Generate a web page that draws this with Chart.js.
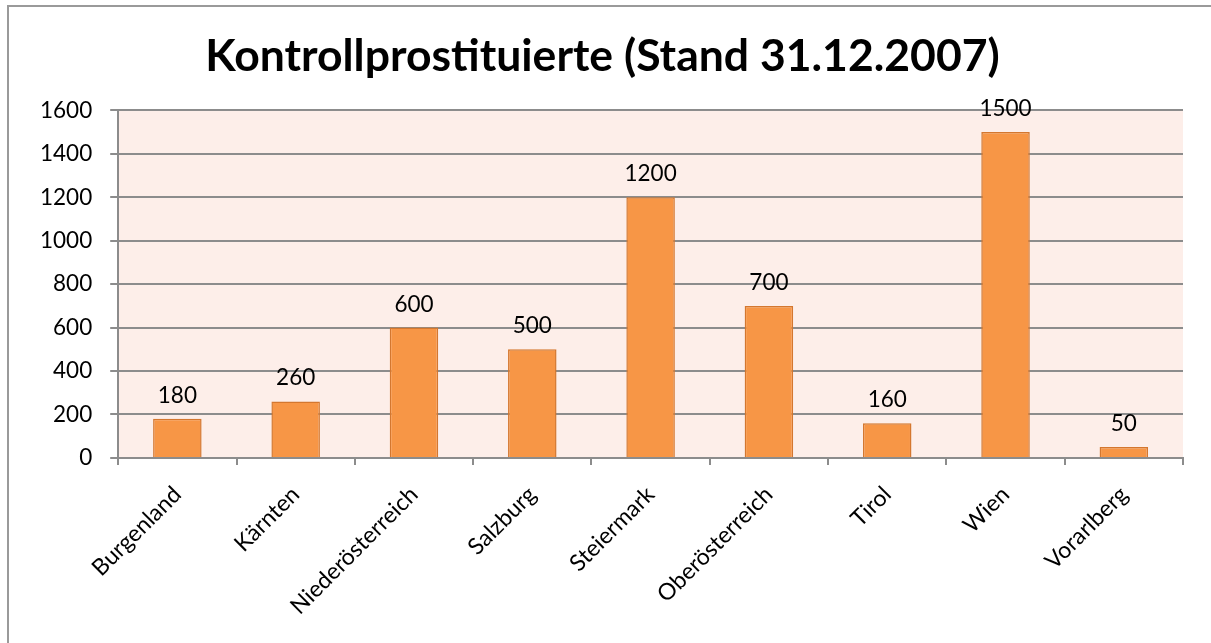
<!DOCTYPE html>
<html>
<head>
<meta charset="utf-8">
<script src="https://cdn.jsdelivr.net/npm/chart.js@4"></script>
<style>
  html, body { margin: 0; padding: 0; background: #fff; overflow: hidden; }
  #frame { position: absolute; left: 7px; top: 5px; width: 1260px; height: 700px; border-left: 2px solid #9a9a9a; border-top: 2px solid #9a9a9a; }
  #wrap { position: absolute; left: 0; top: 0; width: 1211px; height: 643px; }
</style>
</head>
<body>
<div id="frame"></div>
<div id="wrap"><canvas id="c" width="1211" height="643"></canvas></div>
<script>
const titleText = "Kontrollprostituierte (Stand 31.12.2007)";
const categories = ["Burgenland", "Kärnten", "Niederösterreich", "Salzburg", "Steiermark", "Oberösterreich", "Tirol", "Wien", "Vorarlberg"];
const values = [180, 260, 600, 500, 1200, 700, 160, 1500, 50];
const yTicks = [0, 200, 400, 600, 800, 1000, 1200, 1400, 1600];

const FONT = "Lato, 'Open Sans', sans-serif";

const plotBg = {
  id: 'plotBg',
  beforeDraw(chart) {
    const { ctx, chartArea: a } = chart;
    ctx.save();
    ctx.fillStyle = '#fdeee9';
    ctx.fillRect(a.left, a.top, a.right - a.left, a.bottom - a.top);
    ctx.restore();
  }
};

const valueLabels = {
  id: 'valueLabels',
  afterDatasetsDraw(chart) {
    const { ctx } = chart;
    const meta = chart.getDatasetMeta(0);
    ctx.save();
    ctx.font = "22.5px " + FONT;
    ctx.fillStyle = '#000';
    ctx.textAlign = 'center';
    ctx.textBaseline = 'alphabetic';
    meta.data.forEach((bar, i) => {
      ctx.fillText(String(values[i]), bar.x, bar.y - 16);
    });
    ctx.restore();
  }
};

new Chart(document.getElementById('c'), {
  type: 'bar',
  data: {
    labels: categories,
    datasets: [{
      data: values,
      backgroundColor: '#f79646',
      borderColor: '#d4772f',
      borderWidth: 1.5,
      barPercentage: 0.41,
      categoryPercentage: 1.0
    }]
  },
  options: {
    responsive: false,
    animation: false,
    layout: { padding: { left: 22, right: 28, top: 8, bottom: 7 } },
    plugins: {
      legend: { display: false },
      tooltip: { enabled: false },
      title: {
        display: true,
        text: titleText,
        color: '#000',
        font: { family: FONT, size: 44.5, weight: 'bold' },
        padding: { top: 22, bottom: 27 }
      }
    },
    scales: {
      x: {
        grid: { display: true, drawOnChartArea: false, drawTicks: true, tickLength: 7, color: '#8c8c8c', lineWidth: 2 },
        border: { display: true, color: '#8c8c8c', width: 2 },
        ticks: { color: '#000', font: { family: FONT, size: 23 }, maxRotation: 45, minRotation: 45, padding: 16, autoSkip: false }
      },
      y: {
        min: 0, max: 1600,
        afterBuildTicks(axis) { axis.ticks = yTicks.map(v => ({ value: v })); },
        grid: { color: '#8c8c8c', lineWidth: 2, drawTicks: true, tickLength: 8 },
        border: { display: true, color: '#8c8c8c', width: 2 },
        ticks: { color: '#000', font: { family: FONT, size: 22.5 }, padding: 18, callback: (v) => String(v) }
      }
    }
  },
  plugins: [plotBg, valueLabels]
});
</script>
</body>
</html>
